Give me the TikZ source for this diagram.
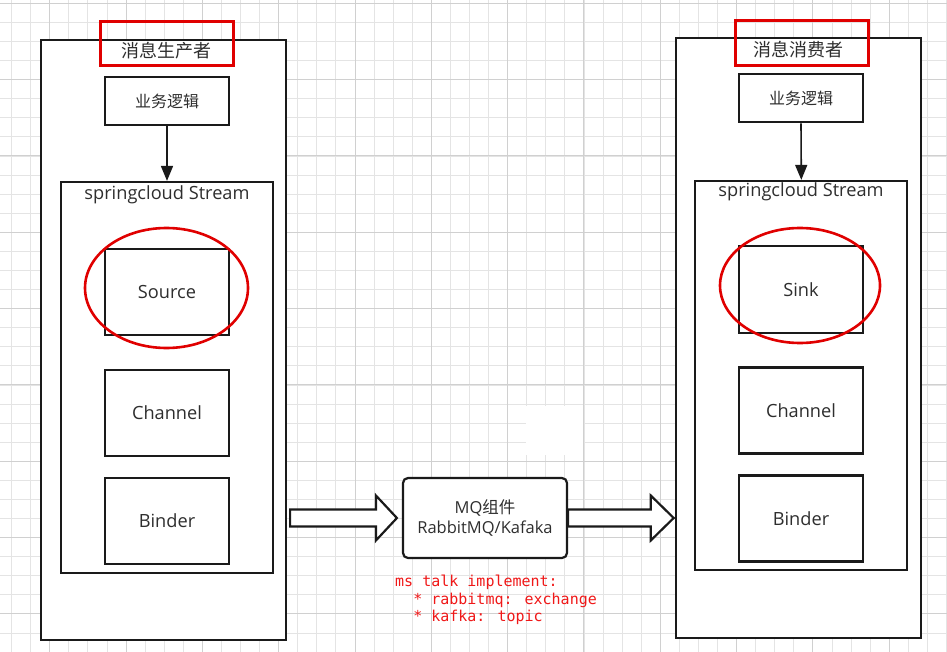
\documentclass[tikz,border=0pt]{standalone}
\usepackage{fontspec}
\setmainfont{Open Sans}
\newfontfamily\cjk{Noto Sans CJK SC}
\newfontfamily\monof{DejaVu Sans Mono}
\usetikzlibrary{arrows.meta,calc,shapes.geometric}
\definecolor{gridminor}{HTML}{E4E4E4}
\definecolor{gridmajor}{HTML}{D0D0D0}
\definecolor{txt}{HTML}{2E2E2E}
\definecolor{lineblk}{HTML}{1A1A1A}
\definecolor{annred}{HTML}{E00000}
\definecolor{monored}{HTML}{F01818}
\tikzset{
  box/.style={draw=lineblk, line width=2.2pt, fill=white, inner sep=0pt, text=txt},
  redrect/.style={draw=annred, line width=3pt, inner sep=0pt},
  redell/.style={draw=annred, line width=2.6pt, ellipse, inner sep=0pt},
  lbl/.style={inner sep=0pt, text=txt},
  flowarrow/.style={draw=lineblk, line width=1.6pt, -{Triangle[length=15pt,width=12pt]}},
  blockarrow/.style={draw=lineblk, line width=2.2pt, fill=white, line join=miter},
  latfont/.style={font=\fontsize{18.2}{20}\selectfont},
}
\begin{document}
\begin{tikzpicture}[x=1pt,y=-1pt]
\useasboundingbox (0,0) rectangle (947,652);
\fill[white] (0,0) rectangle (947,652);
% grid
\foreach \i in {0,...,49} {
  \draw[gridminor, line width=1pt] ({11.6+19.08*\i},0) -- ({11.6+19.08*\i},652);
}
\foreach \i in {0,...,34} {
  \draw[gridminor, line width=1pt] (0,{3.4+19.08*\i}) -- (947,{3.4+19.08*\i});
}
\foreach \i in {0,...,12} {
  \draw[gridmajor, line width=1pt] ({49.8+76.3*\i},0) -- ({49.8+76.3*\i},652);
}
\foreach \i in {0,...,8} {
  \draw[gridmajor, line width=1pt] (0,{3.4+76.3*\i}) -- (947,{3.4+76.3*\i});
}
\fill[white] (526,406) rectangle (583,455);

% ---------- left: producer ----------
\node[box, minimum width=245pt, minimum height=600pt] (outerL) at (163.5,340) {};
\node[redrect, minimum width=133pt, minimum height=44pt] (redL) at (166.5,44) {};
\node[lbl, font=\cjk\fontsize{18}{20}\selectfont] (titleL) at (166,51) {消息生产者};
\node[box, minimum width=124pt, minimum height=48pt, font=\cjk\fontsize{16}{18}\selectfont] (bizL) at (167,101) {业务逻辑};
\node[box, minimum width=212pt, minimum height=391pt] (streamL) at (167,377.5) {};
\node[lbl, latfont] (stL) at (167,194.5) {springcloud Stream};
\node[box, minimum width=124pt, minimum height=86pt, latfont] (sourceL) at (167,292) {Source};
\node[redell, minimum width=163pt, minimum height=120pt] (ellL) at (166.5,288) {};
\node[box, minimum width=124pt, minimum height=86pt, latfont] (channelL) at (167,413) {Channel};
\node[box, minimum width=124pt, minimum height=86pt, latfont] (binderL) at (167,521) {Binder};
\draw[flowarrow] (bizL.south) -- (streamL.north);

% ---------- right: consumer ----------
\node[box, minimum width=245pt, minimum height=600pt] (outerR) at (798.3,338) {};
\node[redrect, minimum width=133pt, minimum height=45pt] (redR) at (801.5,43) {};
\node[lbl, font=\cjk\fontsize{18}{20}\selectfont] (titleR) at (798,50) {消息消费者};
\node[box, minimum width=124pt, minimum height=48pt, font=\cjk\fontsize{16}{18}\selectfont] (bizR) at (801,98.3) {业务逻辑};
\node[box, minimum width=212pt, minimum height=389pt] (streamR) at (801.3,375.5) {};
\node[lbl, latfont] (stR) at (801,192) {springcloud Stream};
\node[box, minimum width=124pt, minimum height=87pt, latfont] (sinkR) at (801,289.5) {Sink};
\node[redell, minimum width=160pt, minimum height=115pt] (ellR) at (800,285.5) {};
\node[box, minimum width=124pt, minimum height=86pt, latfont] (channelR) at (801,410.5) {Channel};
\node[box, minimum width=124pt, minimum height=86pt, latfont] (binderR) at (801,518.5) {Binder};
\draw[flowarrow] (bizR.south) -- (streamR.north);

% ---------- middle: MQ ----------
\node[box, rounded corners=5pt, minimum width=164pt, minimum height=80pt, align=center, font=\fontsize{16.5}{20}\selectfont] (mq) at (485,518) {MQ{\cjk 组件}\\RabbitMQ/Kafaka};

% block arrows
\coordinate (sL) at ($(outerL.east|-mq.west)+(3,0)$);
\coordinate (tL) at ($(mq.west)+(-5,0)$);
\draw[blockarrow] ($(sL)+(0,8.5)$) -- ($(tL)+(-21,8.5)$) -- ($(tL)+(-21,22.5)$) -- (tL)
  -- ($(tL)+(-21,-22.5)$) -- ($(tL)+(-21,-8.5)$) -- ($(sL)+(0,-8.5)$) -- cycle;
\coordinate (sR) at ($(mq.east)+(0,0)$);
\coordinate (tR) at ($(outerR.west|-mq.east)+(-1,0)$);
\draw[blockarrow] ($(sR)+(0,8.5)$) -- ($(tR)+(-23,8.5)$) -- ($(tR)+(-23,22.5)$) -- (tR)
  -- ($(tR)+(-23,-22.5)$) -- ($(tR)+(-23,-8.5)$) -- ($(sR)+(0,-8.5)$) -- cycle;

% annotation
\node[inner sep=0pt, anchor=west, align=left, text=monored, font=\monof\fontsize{15}{17.5}\selectfont] (note) at (395,600)
  {ms talk implement:\\\hphantom{ms}* rabbitmq: exchange\\\hphantom{ms}* kafka: topic};
\end{tikzpicture}
\end{document}
